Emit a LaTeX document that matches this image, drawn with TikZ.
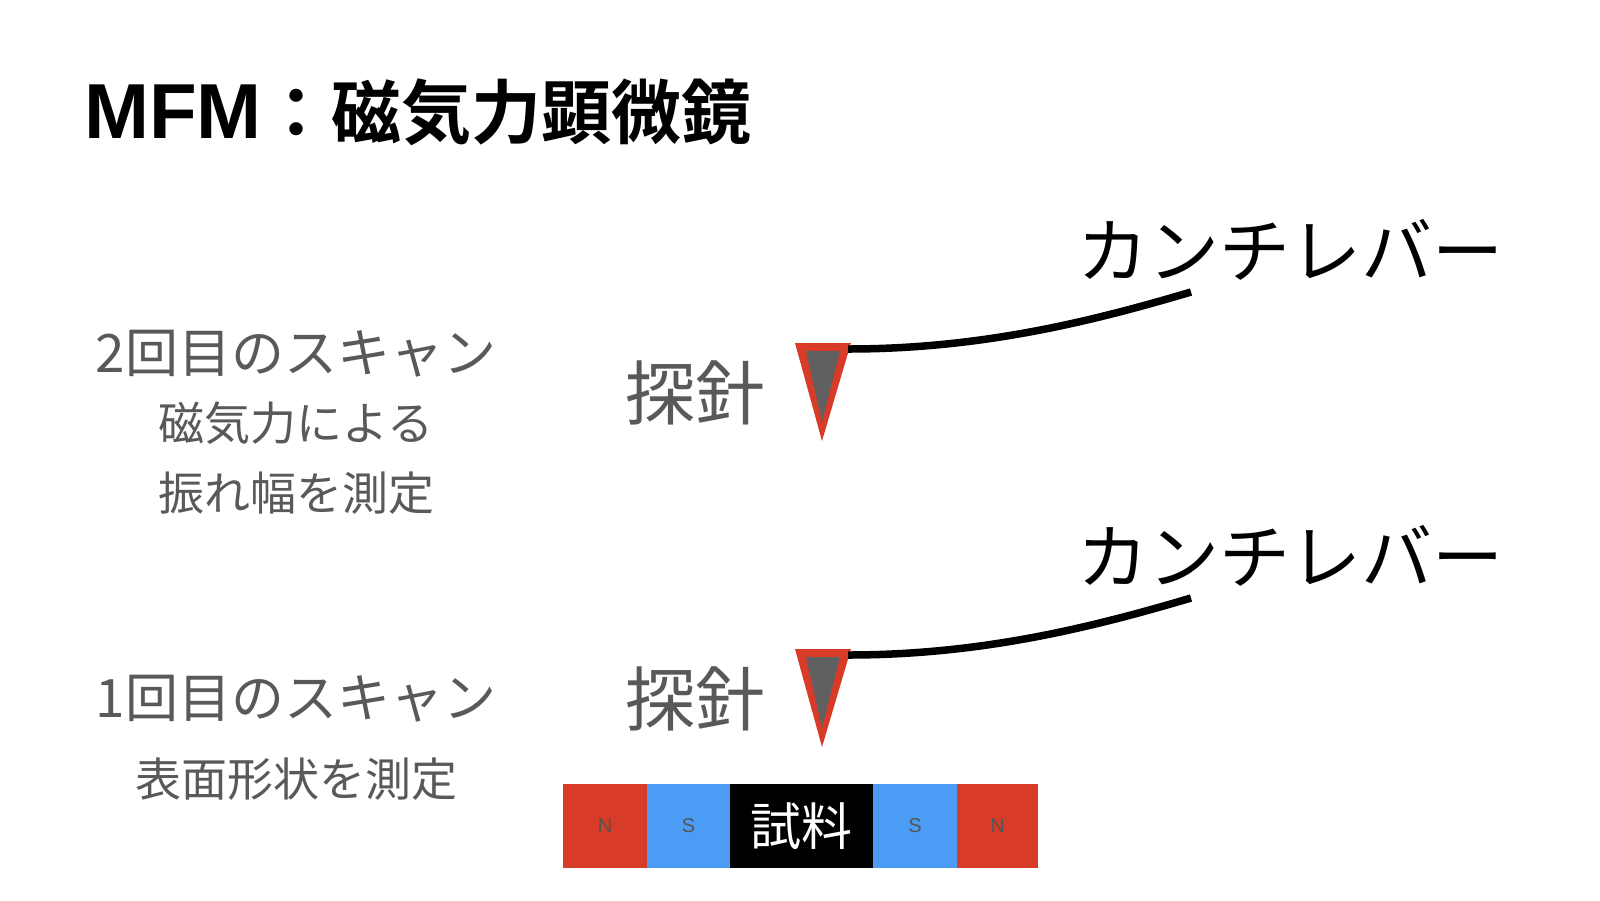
\documentclass[tikz,border=0pt]{standalone}
\usepackage{fontspec}
\newfontfamily\jp{Noto Sans CJK JP}[BoldFont={Noto Sans CJK JP Bold}]
\newfontfamily\lat{Liberation Sans}
\definecolor{txtgray}{HTML}{595959}
\definecolor{tipred}{HTML}{D83B27}
\definecolor{tipgray}{HTML}{606060}
\definecolor{magred}{HTML}{D83B27}
\definecolor{magblue}{HTML}{4A9CF5}
\definecolor{lblgray}{HTML}{555555}
\tikzset{
  gtext/.style={text=txtgray, inner sep=0pt, font=\jp\fontsize{46}{56}\selectfont},
  scantitle/.style={text=txtgray, inner sep=0pt, font=\jp\fontsize{53}{64}\selectfont},
  probe/.style={text=txtgray, inner sep=0pt, font=\jp\fontsize{70}{84}\selectfont},
  canti/.style={text=black, inner sep=0pt, font=\jp\fontsize{71}{84}\selectfont},
  beam/.style={line width=7.5pt, black},
  pole/.style={text=lblgray, inner sep=0pt, font=\lat\fontsize{20}{24}\selectfont},
}
\begin{document}
\begin{tikzpicture}[x=1pt,y=-1pt]
\useasboundingbox (0,0) rectangle (1600,900);
% title
\node[anchor=west, inner sep=0pt, font=\jp\bfseries\fontsize{70}{84}\selectfont] (title) at (84,112) {{\lat\bfseries\fontsize{78}{84}\selectfont MFM}：磁気力顕微鏡};
% left texts
\node[scantitle] (scan2) at (296,354) {2回目のスキャン};
\node[gtext] (scan2a) at (296,423) {磁気力による};
\node[gtext] (scan2b) at (296,493) {振れ幅を測定};
\node[scantitle] (scan1) at (296,699) {1回目のスキャン};
\node[gtext] (scan1a) at (296,779) {表面形状を測定};
% probes and cantilevers
\foreach \dy/\k in {0/a,306/b}{
  \begin{scope}[yshift=-\dy pt]
    \node[probe] (probe\k) at (695,393) {探針};
    \node[canti] (canti\k) at (1290,250) {カンチレバー};
    \fill[tipred] (795,343) -- (851,343) -- (822,441) -- cycle;
    \fill[tipgray] (806,351) -- (840,351) -- (822,422) -- cycle;
    \coordinate (tip\k) at (848,349);
    \coordinate (end\k) at (1191,292);
    \draw[beam] (tip\k) .. controls (980,349) and (1090,322) .. (end\k);
  \end{scope}
}
% sample bar
\fill[magred] (563,784) rectangle (647,868);
\fill[magblue] (647,784) rectangle (730,868);
\fill[black] (730,784) rectangle (873,868);
\fill[magblue] (873,784) rectangle (957,868);
\fill[magred] (957,784) rectangle (1038,868);
\node[pole] (n1) at (605,826) {N};
\node[pole] (s1) at (688.5,826) {S};
\node[inner sep=0pt, text=white, font=\jp\fontsize{51}{60}\selectfont] (sample) at (801.5,826) {試料};
\node[pole] (s2) at (915,826) {S};
\node[pole] (n2) at (997.5,826) {N};
\end{tikzpicture}
\end{document}
